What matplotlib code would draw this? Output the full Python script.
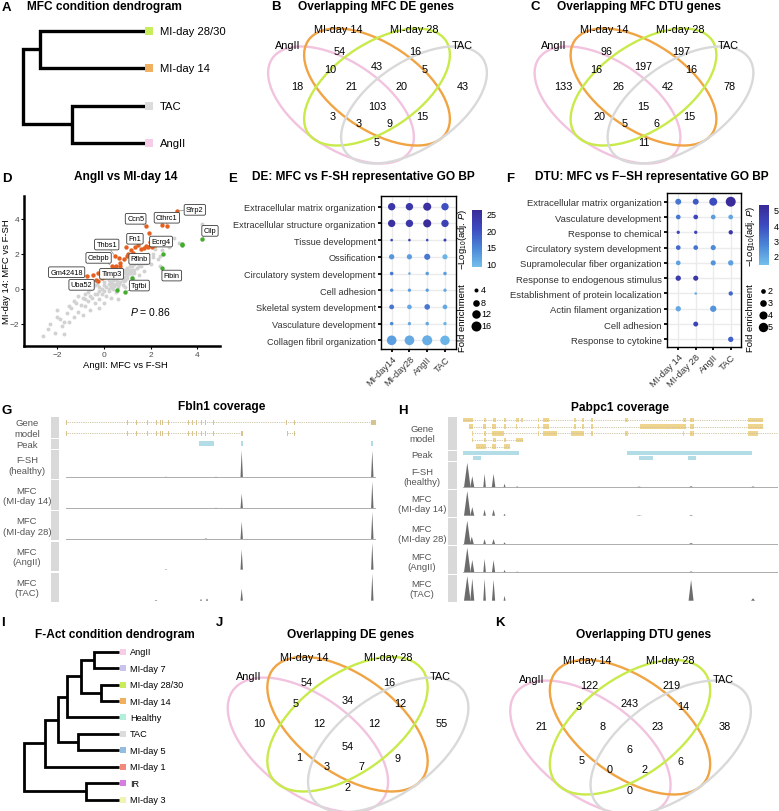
import matplotlib
matplotlib.use('Agg')
import matplotlib.pyplot as plt
from matplotlib.patches import Ellipse, Rectangle
from matplotlib.colors import LinearSegmentedColormap, Normalize
from matplotlib.cm import ScalarMappable
from matplotlib.transforms import Affine2D

plt.rcParams['font.family'] = ['Liberation Sans', 'DejaVu Sans']
plt.rcParams['mathtext.fontset'] = 'custom'
plt.rcParams['mathtext.rm'] = 'Liberation Sans'
plt.rcParams['mathtext.it'] = 'Liberation Sans:italic'
plt.rcParams['mathtext.bf'] = 'Liberation Sans:bold'

# ---------------- data ----------------
# A / I dendrograms: merges are (child, child, height); new cluster ids follow the leaves
mfc_leaves = ['MI-day 28/30', 'MI-day 14', 'TAC', 'AngII']
mfc_merges = [(0, 1, 106), (2, 3, 74), (4, 5, 123)]
fact_leaves = ['AngII', 'MI-day 7', 'MI-day 28/30', 'MI-day 14', 'Healthy',
               'TAC', 'MI-day 5', 'MI-day 1', 'IR', 'MI-day 3']
fact_merges = [(0, 1, 24.7), (2, 3, 18.3), (10, 11, 38.3), (12, 4, 52.3), (5, 6, 41.3),
               (13, 14, 60.7), (15, 7, 74), (8, 9, 33), (16, 17, 95)]
cond_colors = {'AngII': '#f6cde6', 'MI-day 7': '#c9c3ee', 'MI-day 28/30': '#c9ec5b',
               'MI-day 14': '#f0b060', 'Healthy': '#b2f0dc', 'TAC': '#dcdcdc',
               'MI-day 5': '#93bde0', 'MI-day 1': '#f08a7c', 'IR': '#d67ee0',
               'MI-day 3': '#eff4b4'}

# Venn diagrams: A=AngII, B=MI-day 14, C=MI-day 28, D=TAC
venn_sets = ['AngII', 'MI-day 14', 'MI-day 28', 'TAC']
venn_regions = ['A', 'B', 'C', 'D', 'AB', 'BC', 'CD', 'ABC', 'BCD', 'ABCD', 'AC', 'BD', 'ACD', 'ABD', 'AD']
mfc_de_counts = [18, 54, 16, 43, 10, 43, 5, 21, 20, 103, 3, 15, 3, 9, 5]
mfc_dtu_counts = [133, 96, 197, 78, 16, 197, 16, 26, 42, 15, 20, 15, 5, 6, 11]
fact_de_counts = [10, 54, 16, 55, 5, 34, 12, 12, 12, 54, 1, 9, 3, 7, 2]
fact_dtu_counts = [21, 122, 219, 38, 3, 243, 14, 8, 23, 6, 5, 6, 0, 2, 0]

# D scatter
gray_x = [-2.6, -2.4, -2.3, -2.1, -2.0, -1.9, -1.8, -1.7, -1.6, -1.5,
          -1.5, -1.4, -1.3, -1.3, -1.2, -1.1, -1.1, -1.0, -0.9, -0.9,
          -0.8, -0.8, -0.7, -0.7, -0.6, -0.6, -0.5, -0.5, -0.4, -0.4,
          -0.3, -0.3, -0.2, -0.2, -0.1, -0.1, 0.0, 0.0, 0.1, 0.1,
          0.2, 0.2, 0.3, 0.3, 0.3, 0.4, 0.4, 0.5, 0.5, 0.5,
          0.6, 0.6, 0.7, 0.7, 0.8, 0.8, 0.9, 0.9, 1.0, 1.0,
          1.1, 1.1, 1.2, 1.2, 1.3, 1.3, 1.4, 1.5, 1.5, 1.6,
          1.7, 1.7, 1.8, 1.9, 2.0, 2.1, 2.2, 2.3, 2.4, 2.5,
          2.6, 2.8, 3.0, 3.2, 4.2, -1.7, -0.2, 0.6, -2.0, 1.4,
          2.4, 0.0, 0.9,
          0.2, 0.4, 0.6, 0.8, 1.0, 1.2, 1.4, 1.6, 0.3, 0.5,
          0.7, 0.9, 1.1, 1.3, 1.5, 1.7, 0.0, 0.2, 0.4, 0.6,
          0.8, 1.0, 1.2, -0.2, -0.4, 0.1, 0.3, 0.5, 0.7, 0.9,
          1.1, 1.9, 2.1, -0.6, -0.8, 0.45, 0.65, 0.85, 1.05, 1.25]
gray_y = [-2.7, -2.3, -2.0, -2.5, -1.2, -1.7, -2.1, -2.6, -1.4, -1.9,
          -1.0, -1.1, -1.6, -0.7, -0.8, -1.3, -0.4, -0.9, -1.5, -0.5,
          -1.0, -0.3, -0.7, -0.2, -1.2, 0.0, -0.5, 0.1, -0.8, 0.2,
          -0.3, 0.3, -0.6, 0.1, 0.0, -0.3, 0.4, -0.8, 0.1, -0.4,
          0.5, -0.1, 0.2, 0.8, -0.5, 0.0, 0.5, 0.3, 0.9, -0.2,
          0.6, 0.1, 0.4, 1.0, 0.7, 0.2, 0.9, 0.5, 1.2, 0.6,
          0.9, 0.3, 1.1, 0.7, 1.4, 0.9, 1.2, 1.6, 0.8, 1.3,
          1.8, 1.0, 1.5, 2.0, 1.4, 1.8, 2.3, 1.7, 1.3, 2.2,
          2.7, 2.4, 2.9, 2.6, 3.7, -1.9, -1.1, -0.6, -1.6, 0.4,
          1.9, -0.1, 0.1,
          0.3, 0.6, 0.8, 1.0, 1.0, 1.3, 1.5, 1.6, 0.1, 0.5,
          0.7, 0.7, 1.1, 1.1, 1.3, 1.5, 0.2, 0.0, 0.3, 0.4,
          0.5, 0.8, 0.9, -0.1, -0.3, 0.6, 0.4, 0.6, 0.8, 1.1,
          1.3, 1.7, 2.0, -0.4, -0.6, 0.15, 0.25, 0.45, 0.85, 0.55]
up_x = [3.12, 2.47, 2.69, 1.80, 1.93, 1.97, 1.47, 1.70, 1.80, 1.90,
        2.05, 2.20, 1.60, 1.33, 1.18, 1.03, 0.93, 1.00, 0.47, 0.64,
        0.69, 0.40, 0.33, 0.50, 0.70, 0.14, 0.06, -0.03, -0.26, -0.48,
        -0.71, -0.36, -0.24, -0.10, 0.20, 0.85, 1.10, 1.25, 0.55, 0.25]
up_y = [4.47, 3.67, 3.58, 3.56, 3.18, 2.70, 2.48, 2.35, 2.45, 2.38,
        2.40, 2.50, 2.30, 2.40, 2.20, 2.00, 2.38, 1.90, 1.87, 1.74,
        1.33, 1.26, 1.33, 1.30, 1.50, 1.10, 0.90, 0.67, 0.90, 0.80,
        0.76, 0.50, 0.47, 0.60, 0.95, 1.70, 1.85, 2.05, 1.10, 0.75]
dn_x = [4.19, 3.33, 3.36, 2.55, 2.47, 1.43, 1.19, 0.90, 0.54]
dn_y = [2.86, 2.57, 2.50, 1.98, 1.18, 0.38, 0.61, -0.19, -0.04]
lab_names = ['Sfrp2', 'Cthrc1', 'Ccn5', 'Cilp', 'Fn1', 'Ecrg4', 'Thbs1', 'Cebpb',
             'Rflnb', 'Gm42418', 'Timp3', 'Uba52', 'Tgfbi', 'Fibin']
lab_px = [3.12, 2.69, 1.80, 4.19, 1.47, 2.20, 0.47, 0.33, 1.03, -0.71, -0.03, -0.24, 0.90, 2.47]
lab_py = [4.47, 3.58, 3.56, 2.86, 2.48, 2.50, 1.87, 1.33, 2.00, 0.76, 0.67, 0.47, -0.19, 1.18]
lab_tx = [3.90, 2.70, 1.36, 4.55, 1.33, 2.45, 0.12, -0.23, 1.52, -1.60, 0.33, -0.96, 1.52, 2.91]
lab_ty = [4.51, 4.06, 4.00, 3.31, 2.86, 2.70, 2.53, 1.77, 1.71, 0.95, 0.86, 0.23, 0.19, 0.76]
p_text = '$P$ = 0.86'

# E dot plot
e_terms = ['Extracellular matrix organization', 'Extracellular structure organization',
           'Tissue development', 'Ossification', 'Circulatory system development',
           'Cell adhesion', 'Skeletal system development', 'Vasculature development',
           'Collagen fibril organization']
e_conds = ['MI-day14', 'MI-day28', 'AngII', 'TAC']
e_fold = [[9.5, 9.5, 11, 9.5], [9.5, 9.5, 11, 9.5], [2.7, 2.7, 2.7, 3.0], [5.7, 5.7, 7, 5.5],
          [3.5, 2.6, 3.5, 3.5], [3.3, 3.3, 3.3, 3.3], [5.0, 4.8, 6.2, 4.8], [3.5, 3.3, 3.5, 3.3],
          [15, 15, 16, 14.5]]
e_logp = [[24, 24, 25, 20], [25, 24, 26, 22], [22, 22, 20, 22], [13, 12, 16, 10],
          [16, 11, 12, 12], [14, 12, 12, 11], [16, 11, 16, 11], [14, 11, 11, 10],
          [12, 11, 10.5, 10]]

# F dot plot (None = not enriched)
f_terms = ['Extracellular matrix organization', 'Vasculature development', 'Response to chemical',
           'Circulatory system development', 'Supramolecular fiber organization',
           'Response to endogenous stimulus', 'Establishment of protein localization',
           'Actin filament organization', 'Cell adhesion', 'Response to cytokine']
f_conds = ['MI-day 14', 'MI-day 28', 'AngII', 'TAC']
f_fold = [[2.6, 2.6, 3.9, 5.5], [2.0, 2.0, 2.0, 2.0], [1.5, 1.5, None, 1.85],
          [2.0, 2.0, 2.2, None], [2.0, None, 2.2, 2.3], [2.3, 2.2, None, None],
          [None, 1.3, None, 1.85], [2.3, None, 2.8, None], [None, 2.1, None, None],
          [None, None, None, 2.3]]
f_logp = [[3.0, 3.7, 4.0, 5.2], [3.0, 4.2, 2.2, 2.0], [4.2, 4.4, None, 4.8],
          [3.3, 3.1, 2.6, None], [2.1, None, 2.4, 2.1], [4.6, 4.8, None, None],
          [None, 1.8, None, 3.4], [1.9, None, 2.4, None], [None, 4.3, None, None],
          [None, None, None, 3.5]]

# G / H coverage: gene models (row, line start, line end, exons), peaks (row, start, end),
# coverage peaks (centre, relative height, half width)
track_names = ['F-SH\n(healthy)', 'MFC\n(MI-day 14)', 'MFC\n(MI-day 28)', 'MFC\n(AngII)', 'MFC\n(TAC)']
fbln1_exons = [(0.3, 1.1), (61.3, 62.3), (70.3, 71.3), (81.3, 82.3), (90.3, 91.3), (94.3, 95.3),
               (96.5, 97.5), (101.9, 102.9), (121.9, 122.9), (126.3, 127.3), (130.3, 131.3),
               (134.6, 135.6), (138.6, 139.6), (146.9, 147.9)]
fbln1_tx = [(0, 0.7, 310, fbln1_exons + [(219.6, 220.6), (227.9, 228.9), (304.7, 310)]),
            (1, 0.7, 175.7, fbln1_exons + [(174.7, 176.7)]),
            (1, 221.3, 229, [(221.0, 222.0), (228.3, 229.3)])]
fbln1_peaks = [(0, 133, 148), (0, 175, 177.5), (0, 305, 307)]
fbln1_cov = [
    [(175.7, 1.0, 1.2), (306.3, 1.0, 1.2), (100, 0.02, 1.5), (150, 0.02, 1.5)],
    [(175.7, 0.55, 1.2), (306.3, 1.0, 1.2), (150, 0.02, 1.5)],
    [(175.7, 0.65, 1.2), (306.3, 1.0, 1.2), (140, 0.02, 1.5)],
    [(175.7, 0.75, 1.2), (306.3, 1.0, 1.2), (100, 0.02, 1.5)],
    [(175.7, 0.45, 1.2), (306.3, 1.0, 1.2), (135, 0.06, 1.2), (141, 0.08, 1.2), (90, 0.03, 1.5)],
]
pabpc1_tx = [
    (0, 0, 300, [(0, 10), (20.7, 22.3), (30, 32.4), (41, 42.7), (52.7, 56), (57.7, 59.3), (74.4, 76),
                 (80, 86), (111, 112.7), (118.4, 120.7), (127.7, 129.7), (161.7, 165), (220, 223.4),
                 (226.7, 231), (285, 300)]),
    (1, 5.7, 300, [(5.7, 10), (19.4, 22.3), (29, 32.4), (41, 42.7), (52.4, 53.7), (74.4, 76), (80, 86),
                   (111, 112.7), (118.4, 120.7), (127.7, 129.7), (176.7, 223.4), (226.7, 231), (285, 300)]),
    (2, 9, 315, [(9, 10), (20.7, 22.3), (29, 40.7), (74.4, 76), (80, 93.4), (107.4, 120.7), (127.7, 129.7),
                 (161.7, 165), (220, 221), (226.7, 231), (285, 295)]),
    (3, 9, 60, [(9, 10), (20.7, 22.3), (30, 32.4), (41, 42.7), (52.4, 60)]),
    (4, 12.3, 46.7, [(12.3, 22.3), (29, 32.4), (41, 46.7)]),
]
pabpc1_peaks = [(0, 0, 56), (0, 164, 289), (1, 10, 18), (1, 175.7, 190), (1, 224.7, 233.4)]
pabpc1_cov = [
    [(4, 1.0, 3.3), (9, 0.45, 2), (21.3, 0.55, 1.3), (30.3, 0.55, 1.8), (41.3, 0.15, 1), (54, 0.04, 1.5),
     (176, 0.03, 3), (228, 0.05, 2), (290, 0.04, 2)],
    [(4, 1.0, 3.3), (9, 0.35, 2), (21.3, 0.25, 1.3), (30.3, 0.25, 1.5), (41.3, 0.08, 1), (176, 0.02, 3),
     (228, 0.03, 2)],
    [(4, 0.95, 3.3), (8.5, 0.3, 2), (21.3, 0.2, 1.3), (30.3, 0.2, 1.5), (41.3, 0.07, 1), (228, 0.04, 2)],
    [(4, 1.0, 3.3), (9, 0.5, 2), (21.3, 0.55, 1.3), (30.3, 0.5, 1.6), (41.3, 0.1, 1), (54, 0.03, 1.5),
     (228, 0.04, 2)],
    [(4, 1.0, 3.3), (9, 0.9, 2), (21.3, 0.9, 1.3), (30.3, 0.85, 1.6), (41.3, 0.2, 1), (228, 0.85, 2.5),
     (290, 0.1, 2)],
]

# ---------------- figure ----------------
W, H = 779, 812
fig = plt.figure(figsize=(W / 100, H / 100), dpi=100)


def box(x0, y0, x1, y1):
    # axes placed by pixel box (top-left origin)
    return fig.add_axes([x0 / W, 1 - y1 / H, (x1 - x0) / W, (y1 - y0) / H])


ov = box(0, 0, W, H)
ov.set_xlim(0, W)
ov.set_ylim(H, 0)
ov.axis('off')
ov.set_zorder(10)
ov.patch.set_visible(False)

TITLE_FS = 8.6


def letter(x, y, s):
    ov.text(x, y, s, fontsize=9.5, fontweight='bold', ha='left', va='center')


def title(x, y, s, ha='center'):
    ov.text(x, y, s, fontsize=TITLE_FS, fontweight='bold', ha=ha, va='center')


# ---- dendrograms ----
def dendrogram(bx, leaf_x, leaf_y0, dy, leaves, merges, lw, fs, ms, gap):
    x0, y0, x1, y1 = bx
    ax = box(x0, y0, x1, y1)
    ax.set_xlim(leaf_x - x0, leaf_x - x1)
    ax.set_ylim((y1 - leaf_y0) / dy, (y0 - leaf_y0) / dy)
    ax.axis('off')
    pos = [(0.0, i) for i in range(len(leaves))]
    for a, b, h in merges:
        (ha_, ya), (hb, yb) = pos[a], pos[b]
        ax.plot([ha_, h, h, hb], [ya, ya, yb, yb], color='black', lw=lw,
                solid_joinstyle='miter', solid_capstyle='butt')
        pos.append((h, (ya + yb) / 2))
    for i, name in enumerate(leaves):
        ax.plot(-3.6, i, 's', ms=ms, color=cond_colors[name], mew=0)
        ax.text(-gap, i, name, ha='left', va='center', fontsize=fs)


letter(2, 8, 'A')
title(27, 7, 'MFC condition dendrogram', ha='left')
dendrogram((15, 15, 260, 160), 145.7, 31.7, 37.43, mfc_leaves, mfc_merges, 2.4, 8.1, 5.2, 14)

letter(1, 623, 'I')
title(115, 635, 'F-Act condition dendrogram')
dendrogram((18, 640, 215, 812), 119, 652.7, 16.44, fact_leaves, fact_merges, 2.0, 6.6, 4.8, 11)

# ---- Venn diagrams ----
reg_off = {'A': (-80, -12.7), 'B': (-37, -48.3), 'C': (38, -48.3), 'D': (86, -12.7),
           'AB': (-47, -30), 'BC': (0, -33.3), 'CD': (48, -30), 'ABC': (-25.3, -12.7),
           'BCD': (24.7, -12.7), 'ABCD': (0, 7.3), 'AC': (-44.3, 16.7), 'BD': (45.7, 17.3),
           'ACD': (-18.7, 24), 'ABD': (13, 24), 'AD': (0, 42.7)}
set_off = [(-89.7, -54), (-39, -70), (37, -70), (84.7, -54)]
ell_geo = [(-36, 6, 34), (0, -12, 34), (0, -12, -34), (37, 6, -34)]
venn_cols = ['#f2c3df', '#f0a443', '#c8ea4a', '#d9d9d9']


def venn(cx, cy, sx, sy, counts):
    tr = Affine2D().scale(sx, sy).translate(cx, cy) + ov.transData
    for (ex, ey, ang), col in zip(ell_geo, venn_cols):
        ov.add_patch(Ellipse((ex, ey), 166, 86, angle=ang, fill=False, ec=col, lw=1.7, transform=tr))
    for key, n in zip(venn_regions, counts):
        dx, dy = reg_off[key]
        ov.text(cx + dx * sx, cy + dy * sy, str(n), ha='center', va='center', fontsize=7.8)
    for (dx, dy), name in zip(set_off, venn_sets):
        ov.text(cx + dx * sx, cy + dy * sy, name, ha='center', va='center', fontsize=7.8)


letter(271, 7, 'B')
title(298, 7, 'Overlapping MFC DE genes', ha='left')
venn(377, 100, 1.0, 1.0, mfc_de_counts)

letter(531, 7, 'C')
title(557, 7, 'Overlapping MFC DTU genes', ha='left')
venn(643.5, 100, 1.0, 1.0, mfc_dtu_counts)

letter(216, 623, 'J')
title(351, 635, 'Overlapping DE genes')
venn(347.5, 739, 1.1, 1.15, fact_de_counts)

letter(495, 623, 'K')
title(644, 635, 'Overlapping DTU genes')
venn(630, 742, 1.1, 1.15, fact_dtu_counts)

# ---- D scatter ----
letter(2, 179, 'D')
title(126, 177, 'AngII vs MI-day 14')
axd = box(24, 197, 220, 347)
axd.scatter(gray_x, gray_y, s=8, c='#d2d2d2', lw=0, zorder=2)
axd.scatter(up_x, up_y, s=10, c='#e5601f', lw=0, zorder=3)
axd.scatter(dn_x, dn_y, s=10, c='#43ad2c', lw=0, zorder=3)
for name, px, py, tx, ty in zip(lab_names, lab_px, lab_py, lab_tx, lab_ty):
    axd.annotate(name, xy=(px, py), xytext=(tx, ty), fontsize=5.3, ha='center', va='center',
                 bbox=dict(boxstyle='round,pad=0.25,rounding_size=0.2', fc='white', ec='#3a3a3a', lw=0.6),
                 arrowprops=dict(arrowstyle='-', color='#8a8a8a', lw=0.5, shrinkA=0, shrinkB=1.5),
                 zorder=5)
axd.text(1.97, -1.24, p_text, fontsize=7.5, ha='center', va='center')
axd.set_xlim(-3.43, 4.98)
axd.set_ylim(-3.26, 5.3)
axd.set_xticks([-2, 0, 2, 4])
axd.set_yticks([-2, 0, 2, 4])
axd.tick_params(labelsize=6, labelcolor='#4d4d4d', length=2, width=0.8, pad=1.5)
for sp in ['top', 'right']:
    axd.spines[sp].set_visible(False)
for sp in ['left', 'bottom']:
    axd.spines[sp].set_linewidth(1.8)
ov.text(125, 366, 'AngII: MFC vs F-SH', fontsize=6.8, ha='center', va='center')
ov.text(6.5, 272, 'MI-day 14: MFC vs F-SH', fontsize=6.8, ha='center', va='center', rotation=90)

# ---- E / F dot plots ----
cmap = LinearSegmentedColormap.from_list('go', ['#74c0ec', '#4a86d6', '#3d4bc0', '#3a2a98'])


def dotplot(bx, terms, conds, fold, logp, norm, size_fn, xlim, ylim, fs):
    ax = box(*bx)
    xs, ys, ss, cs = [], [], [], []
    for i, row in enumerate(fold):
        for j, v in enumerate(row):
            if v is None:
                continue
            xs.append(j)
            ys.append(i)
            ss.append(size_fn(v))
            cs.append(logp[i][j])
    ax.scatter(xs, ys, s=ss, c=cs, cmap=cmap, norm=norm, linewidths=0, zorder=3)
    ax.set_xticks(range(len(conds)))
    ax.set_xticklabels(conds, rotation=45, ha='right', rotation_mode='anchor', fontsize=fs, color='#333333')
    ax.set_yticks(range(len(terms)))
    ax.set_yticklabels(terms, fontsize=fs, color='#333333')
    ax.set_xlim(*xlim)
    ax.set_ylim(*ylim)
    ax.grid(True, color='#ebebeb', lw=1.0)
    ax.set_axisbelow(True)
    ax.tick_params(length=2.5, width=1.3, pad=1.2)
    for sp in ax.spines.values():
        sp.set_linewidth(1.0)
    return ax


def colorbar(bx, norm, ticks):
    cax = box(*bx)
    cb = fig.colorbar(ScalarMappable(norm=norm, cmap=cmap), cax=cax, ticks=ticks)
    cb.outline.set_visible(False)
    cax.tick_params(labelsize=6.5, length=2, width=0.6, color='white', pad=1.5)


def e_size(v):
    return max(3.63 * v - 6.2, 1.5)


def f_size(v):
    return max(11.4 * v - 11.4, 1.5)


letter(228, 179, 'E')
title(252, 177, 'DE: MFC vs F-SH representative GO BP', ha='left')
e_norm = Normalize(8.7, 26.3)
dotplot((381, 197, 456, 350), e_terms, e_conds, e_fold, e_logp, e_norm, e_size,
        (-0.6, 3.62), (8.52, -0.64), 6.6)
colorbar((471.7, 210.7, 481.7, 268.3), e_norm, [10, 15, 20, 25])
ov.text(463, 239, r'$-$Log$_{10}$(adj. $P$)', rotation=90, fontsize=6.8, ha='center', va='center')
ov.text(463, 318, 'Fold enrichment', rotation=90, fontsize=6.8, ha='center', va='center')
for v, yy in zip([4, 8, 12, 16], [291, 303.7, 315, 327]):
    ov.scatter([475.7], [yy], s=e_size(v), c='black', lw=0)
    ov.text(481, yy, str(v), fontsize=6.5, va='center', ha='left')

letter(506, 179, 'F')
title(535, 177, 'DTU: MFC vs F\u2212SH representative GO BP', ha='left')
f_norm = Normalize(1.39, 5.31)
dotplot((666.7, 194.3, 740.7, 348), f_terms, f_conds, f_fold, f_logp, f_norm, f_size,
        (-0.66, 3.57), (9.5, -0.55), 6.8)
colorbar((759, 206, 769, 266), f_norm, [2, 3, 4, 5])
ov.text(751, 236, r'$-$Log$_{10}$(adj. $P$)', rotation=90, fontsize=6.8, ha='center', va='center')
ov.text(751, 318, 'Fold enrichment', rotation=90, fontsize=6.8, ha='center', va='center')
for v, yy in zip([2, 3, 4, 5], [291.7, 304, 316, 328]):
    ov.scatter([763], [yy], s=f_size(v), c='black', lw=0)
    ov.text(768, yy, str(v), fontsize=6.5, va='center', ha='left')


# ---- G / H coverage tracks ----
def gene_model(bx, xlim, row0, drow, tx, exon_col, half):
    ax = box(*bx)
    ax.set_xlim(*xlim)
    ax.set_ylim((bx[3] - row0) / drow, (bx[1] - row0) / drow)
    ax.axis('off')
    for row, s, e, exons in tx:
        ax.plot([s, e], [row, row], color='#cdbf9c', lw=0.6, ls=(0, (1.5, 1.2)))
        for a, b in exons:
            ax.add_patch(Rectangle((a, row - half), b - a, 2 * half, fc=exon_col, ec='none'))


def peak_track(bx, xlim, row0, drow, peaks, half):
    ax = box(*bx)
    ax.set_xlim(*xlim)
    ax.set_ylim((bx[3] - row0) / drow, (bx[1] - row0) / drow)
    ax.axis('off')
    for row, a, b in peaks:
        ax.add_patch(Rectangle((a, row - half), b - a, 2 * half, fc='#b3dde6', ec='none'))


def cov_track(x0, x1, base, hgt, xlim, peaks):
    ax = box(x0, base - hgt, x1, base + 0.5)
    ax.set_xlim(*xlim)
    ax.set_ylim(-0.02, 1.04)
    ax.axis('off')
    ax.axhline(0, color='#a0a0a0', lw=0.6)
    for c, h, w in peaks:
        ax.fill([c - w, c, c + w], [0, h, 0], color='#6c6c6c', lw=0)


def side(x, labels_y, strip_x, strips):
    for y0, y1 in strips:
        ov.add_patch(Rectangle((strip_x, y0), 8.6, y1 - y0, fc='#d9d9d9', ec='none'))
    for s, yy in zip(['Gene\nmodel', 'Peak'] + track_names, labels_y):
        ov.text(x, yy, s, fontsize=6.8, color='#555555', ha='center', va='center', linespacing=1.2)


letter(2, 411, 'G')
title(222, 407, 'Fbln1 coverage')
side(27, [429, 445.3, 466, 496.7, 527.2, 557.8, 588.5], 50.7,
     [(418, 438.5), (440, 449.5), (451, 479.5), (481, 510.5), (512, 541), (543, 572), (574, 602.5)])
gene_model((66, 418, 376, 440), (0, 310), 423.3, 11, fbln1_tx, '#d9c38f', 0.23)
peak_track((66, 441, 376, 449), (0, 310), 444.7, 5, fbln1_peaks, 0.5)
for base, cov in zip([478.3, 509.3, 540, 570.7, 601.7], fbln1_cov):
    cov_track(66, 376, base, 28, (0, 310), cov)

letter(398, 411, 'H')
title(620, 408, 'Pabpc1 coverage')
side(422, [434.7, 455.7, 477.5, 504.8, 534.5, 562.2, 589.5], 448,
     [(418, 451), (452, 462), (463, 489.5), (491, 517.5), (519, 546), (547, 574.5), (576, 602.5)])
gene_model((463.3, 417, 778, 451), (0, 315), 421, 6.67, pabpc1_tx, '#efd48e', 0.34)
peak_track((463.3, 451, 778, 462), (0, 315), 454, 5, pabpc1_peaks, 0.36)
for base, cov in zip([488.3, 516.7, 545, 573.3, 601.7], pabpc1_cov):
    cov_track(463.3, 778, base, 25.5, (0, 315), cov)

fig.savefig('out.png', dpi=100)
